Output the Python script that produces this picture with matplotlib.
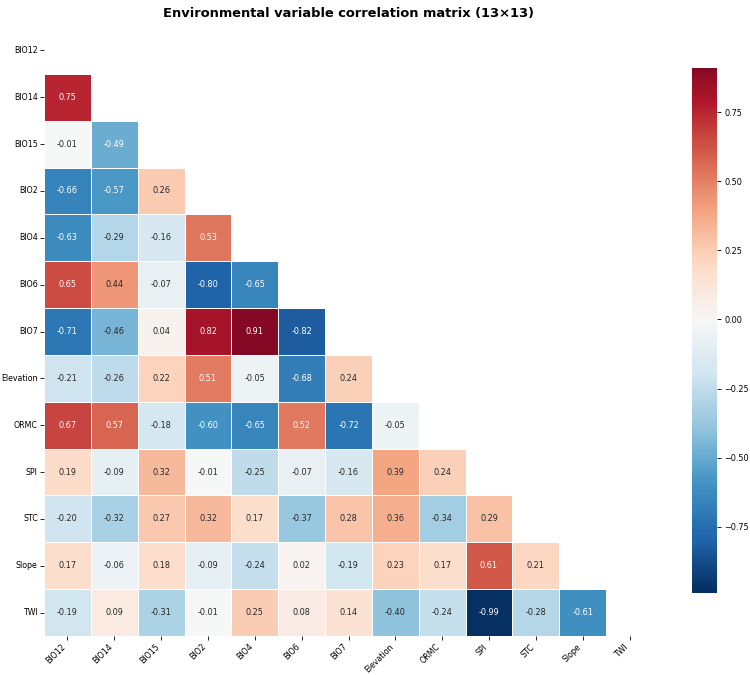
import numpy as np
import pandas as pd
import matplotlib
matplotlib.use("Agg")
import matplotlib.pyplot as plt
import seaborn as sns

# variable names (row / column order of the matrix)
variables = ["BIO12", "BIO14", "BIO15", "BIO2", "BIO4", "BIO6", "BIO7",
             "Elevation", "ORMC", "SPI", "STC", "Slope", "TWI"]

# lower-triangle correlations, row by row (below the diagonal)
row_BIO14 = [0.75]
row_BIO15 = [-0.01, -0.49]
row_BIO2 = [-0.66, -0.57, 0.26]
row_BIO4 = [-0.63, -0.29, -0.16, 0.53]
row_BIO6 = [0.65, 0.44, -0.07, -0.80, -0.65]
row_BIO7 = [-0.71, -0.46, 0.04, 0.82, 0.91, -0.82]
row_Elevation = [-0.21, -0.26, 0.22, 0.51, -0.05, -0.68, 0.24]
row_ORMC = [0.67, 0.57, -0.18, -0.60, -0.65, 0.52, -0.72, -0.05]
row_SPI = [0.19, -0.09, 0.32, -0.01, -0.25, -0.07, -0.16, 0.39, 0.24]
row_STC = [-0.20, -0.32, 0.27, 0.32, 0.17, -0.37, 0.28, 0.36, -0.34, 0.29]
row_Slope = [0.17, -0.06, 0.18, -0.09, -0.24, 0.02, -0.19, 0.23, 0.17, 0.61, 0.21]
row_TWI = [-0.19, 0.09, -0.31, -0.01, 0.25, 0.08, 0.14, -0.40, -0.24, -0.99, -0.28, -0.61]

lower_rows = [row_BIO14, row_BIO15, row_BIO2, row_BIO4, row_BIO6, row_BIO7,
              row_Elevation, row_ORMC, row_SPI, row_STC, row_Slope, row_TWI]

# build the full symmetric matrix
n = len(variables)
corr = np.eye(n)
for i, vals in enumerate(lower_rows, start=1):
    corr[i, :i] = vals
    corr[:i, i] = vals
corr = pd.DataFrame(corr, index=variables, columns=variables)

# hide upper triangle and diagonal
mask = np.triu(np.ones_like(corr, dtype=bool))

fig = plt.figure(figsize=(10, 9), dpi=75)
ax = fig.add_axes([44 / 750, 1 - 636 / 675, 609 / 750, 609 / 675])
cax = fig.add_axes([692 / 750, 1 - 593 / 675, 25 / 750, 525 / 675])

sns.heatmap(corr, mask=mask, cmap="RdBu_r", center=0, annot=True, fmt=".2f",
            annot_kws={"size": 7.8}, linewidths=0.5, linecolor="white",
            square=True, ax=ax, cbar_ax=cax)

ax.set_title("Environmental variable correlation matrix (13×13)",
             fontsize=12.5, fontweight="bold", pad=10)
ax.set_xticklabels(variables, rotation=45, ha="right", fontsize=7.6)
ax.set_yticklabels(variables, rotation=0, fontsize=7.6)
ax.tick_params(axis="y", pad=2.5)
ax.tick_params(axis="x", pad=2.5)
cax.tick_params(labelsize=7.8)

fig.savefig("out.png", dpi=75)
